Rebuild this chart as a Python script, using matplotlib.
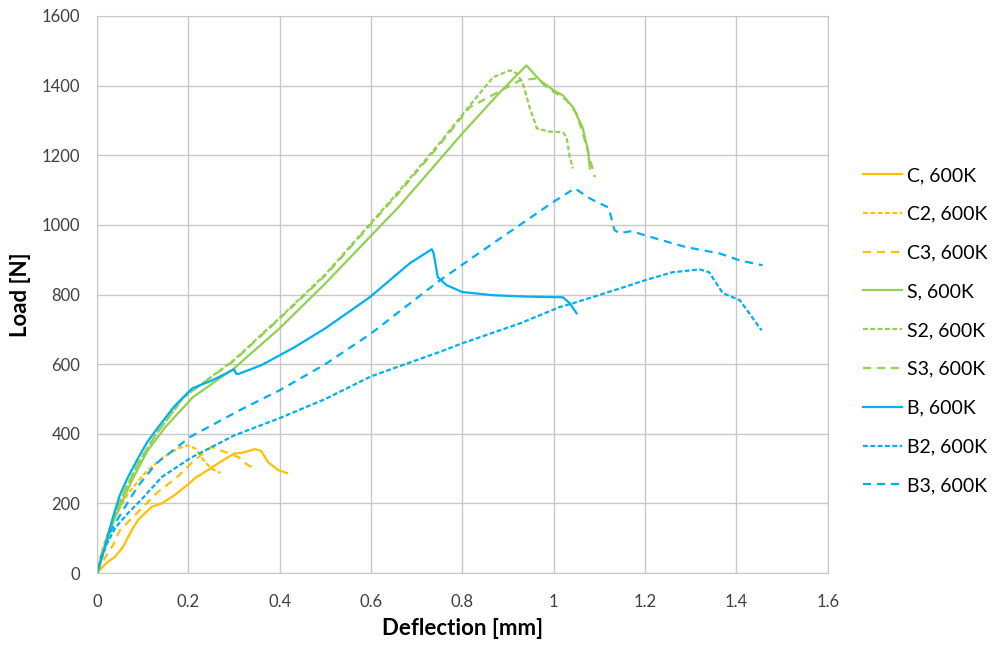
import matplotlib
matplotlib.use("Agg")
import matplotlib.pyplot as plt

# Load-deflection curves
c_x = [0, 0.02, 0.039, 0.057, 0.068, 0.079, 0.09, 0.105, 0.12, 0.142, 0.17, 0.2, 0.214, 0.243, 0.27, 0.30, 0.32, 0.346, 0.36, 0.374, 0.396, 0.416]
c_y = [0, 28, 46, 75, 103, 130, 152, 172, 190, 200, 224, 255, 272, 296, 319, 343, 346, 356, 350, 319, 296, 287]

c2_x = [0, 0.01, 0.025, 0.039, 0.068, 0.105, 0.142, 0.178, 0.197, 0.215, 0.236, 0.25, 0.27]
c2_y = [0, 60, 120, 161, 229, 287, 330, 358, 367, 358, 319, 301, 287]

c3_x = [0, 0.02, 0.035, 0.05, 0.079, 0.13, 0.175, 0.21, 0.25, 0.27, 0.31, 0.33, 0.346]
c3_y = [0, 50, 80, 123, 161, 229, 275, 320, 362, 353, 333, 310, 301]

s_x = [0, 0.01, 0.02, 0.04, 0.06, 0.08, 0.11, 0.15, 0.21, 0.30, 0.40, 0.50, 0.66, 0.80, 0.88, 0.94, 0.97, 1.0, 1.02, 1.042, 1.063, 1.075, 1.079]
s_y = [0, 50, 90, 160, 220, 275, 350, 420, 505, 588, 703, 832, 1051, 1263, 1378, 1458, 1415, 1386, 1372, 1338, 1280, 1214, 1162]

s2_x = [0, 0.02, 0.04, 0.06, 0.09, 0.13, 0.19, 0.30, 0.40, 0.50, 0.66, 0.75, 0.816, 0.867, 0.904, 0.918, 0.932, 0.947, 0.963, 0.99, 1.02, 1.028, 1.035, 1.042]
s2_y = [0, 95, 170, 235, 315, 400, 505, 612, 733, 858, 1095, 1235, 1343, 1424, 1444, 1436, 1407, 1338, 1277, 1268, 1266, 1252, 1194, 1162]

s3_x = [0, 0.02, 0.04, 0.06, 0.09, 0.13, 0.19, 0.30, 0.40, 0.50, 0.66, 0.75, 0.816, 0.845, 0.926, 0.963, 0.985, 1.028, 1.05, 1.068, 1.09]
s3_y = [0, 95, 170, 235, 315, 400, 505, 610, 731, 855, 1091, 1230, 1338, 1358, 1415, 1421, 1395, 1358, 1320, 1243, 1137]

b_x = [0, 0.0175, 0.033, 0.05, 0.068, 0.09, 0.11, 0.134, 0.17, 0.208, 0.236, 0.25, 0.27, 0.30, 0.305, 0.31, 0.36, 0.433, 0.50, 0.597, 0.685, 0.733, 0.737, 0.746, 0.765, 0.80, 0.867, 0.94, 1.02, 1.035, 1.05]
b_y = [0, 75, 152, 224, 276, 330, 376, 419, 480, 530, 545, 552, 565, 585, 572, 572, 597, 649, 703, 792, 890, 930, 918, 850, 827, 807, 798, 794, 792, 775, 746]

b2_x = [0, 0.01, 0.02, 0.04, 0.068, 0.10, 0.142, 0.204, 0.30, 0.40, 0.50, 0.60, 0.75, 0.80, 0.926, 1.013, 1.04, 1.144, 1.20, 1.26, 1.32, 1.34, 1.37, 1.407, 1.455]
b2_y = [0, 40, 80, 130, 172, 215, 276, 330, 395, 445, 500, 565, 635, 660, 717, 764, 774, 817, 841, 864, 872, 864, 804, 784, 697]

b3_x = [0, 0.01, 0.03, 0.057, 0.09, 0.13, 0.204, 0.313, 0.40, 0.50, 0.60, 0.648, 0.75, 0.867, 0.926, 0.998, 1.046, 1.079, 1.10, 1.12, 1.133, 1.144, 1.17, 1.215, 1.29, 1.363, 1.407, 1.457]
b3_y = [0, 50, 120, 181, 250, 315, 391, 468, 525, 600, 688, 737, 840, 947, 1000, 1065, 1105, 1076, 1062, 1050, 985, 976, 982, 964, 936, 918, 898, 884]

labels = ["C, 600K", "C2, 600K", "C3, 600K", "S, 600K", "S2, 600K", "S3, 600K", "B, 600K", "B2, 600K", "B3, 600K"]

ORANGE = "#FFC000"
GREEN = "#92D050"
BLUE = "#00B0F0"
SOLID = "-"
SHORT = (0, (2.2, 1.1))
LONG = (0, (3.6, 2.7))

series = [
    (c_x, c_y, ORANGE, SOLID),
    (c2_x, c2_y, ORANGE, SHORT),
    (c3_x, c3_y, ORANGE, LONG),
    (s_x, s_y, GREEN, SOLID),
    (s2_x, s2_y, GREEN, SHORT),
    (s3_x, s3_y, GREEN, LONG),
    (b_x, b_y, BLUE, SOLID),
    (b2_x, b2_y, BLUE, SHORT),
    (b3_x, b3_y, BLUE, LONG),
]

plt.rcParams["font.family"] = ["Lato", "DejaVu Sans"]

fig = plt.figure(figsize=(9.95, 6.45), dpi=100)
ax = fig.add_axes([0.0975, 0.1116, 0.7345, 0.8636])

for (x, y, color, ls), label in zip(series, labels):
    ax.plot(x, y, color=color, linestyle=ls, linewidth=1.6, label=label)

ax.set_xlim(0, 1.6)
ax.set_ylim(0, 1600)
ax.set_xticks([0, 0.2, 0.4, 0.6, 0.8, 1.0, 1.2, 1.4, 1.6])
ax.set_xticklabels(["0", "0.2", "0.4", "0.6", "0.8", "1", "1.2", "1.4", "1.6"])
ax.set_yticks(range(0, 1601, 200))
ax.grid(True, color="#c8c8c8", linewidth=1.0)
ax.set_axisbelow(True)
for sp in ax.spines.values():
    sp.set_color("#c8c8c8")
ax.tick_params(length=0, labelsize=12, colors="#404040")
ax.tick_params(axis="x", pad=15)
ax.tick_params(axis="y", pad=12)

ax.set_xlabel("Deflection [mm]", fontsize=16, fontweight="bold", labelpad=6)
ax.set_ylabel("Load [N]", fontsize=16, fontweight="bold", labelpad=8)

fig.legend(loc="center left", bbox_to_anchor=(0.858, 0.4876), frameon=False,
           fontsize=14, handlelength=1.96, handletextpad=0.26, labelspacing=1.12,
           borderpad=0)

fig.savefig("out.png", dpi=100)
